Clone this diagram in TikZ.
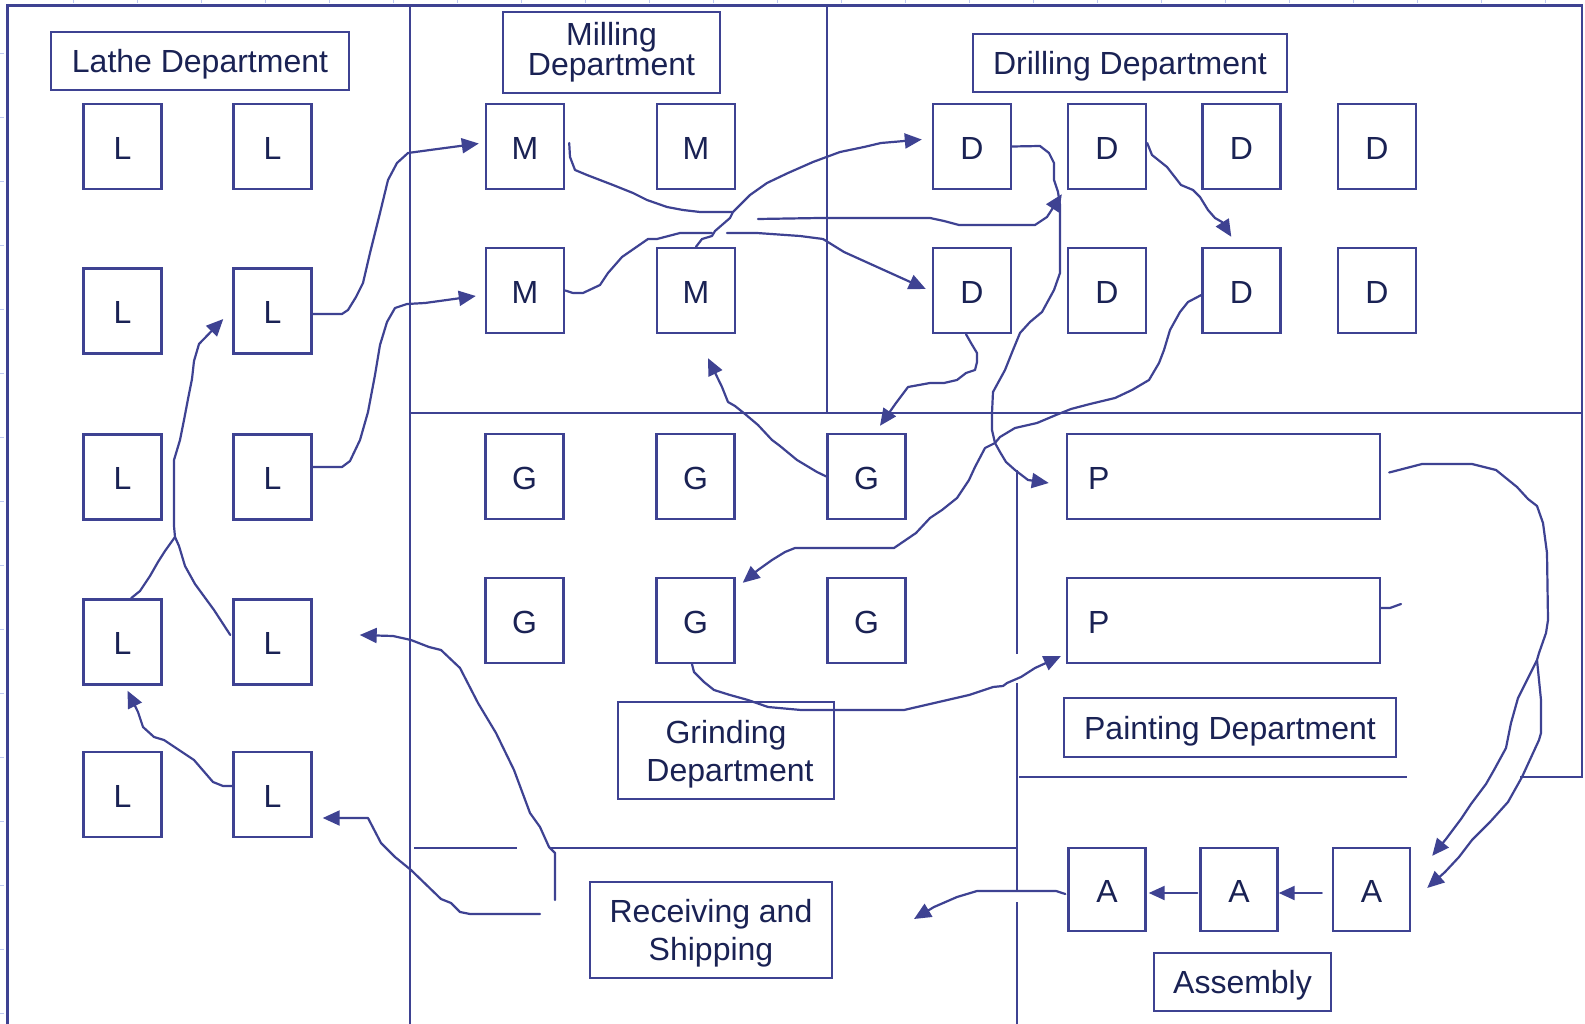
\documentclass[tikz,border=0pt]{standalone}
\usepackage{fontspec}
\setmainfont{Liberation Sans}
\usetikzlibrary{arrows.meta}
\definecolor{lc}{RGB}{62,66,146}
\definecolor{tc}{RGB}{26,34,84}
\definecolor{tick}{RGB}{190,200,240}
\begin{document}
\begin{tikzpicture}[x=1pt,y=-1pt,
 frame/.style={draw=lc,line width=2.6pt},
 mach/.style={draw=lc,line width=2.4pt,inner sep=0pt,text=tc,font=\fontsize{32}{38}\selectfont,minimum width=78pt,minimum height=85pt,text height=25.5pt,text depth=0pt},
 lab/.style={draw=lc,line width=2.4pt,inner sep=0pt,text=tc,font=\fontsize{32}{38}\selectfont,align=center},
 flow/.style={draw=lc,line width=2.2pt,line join=round,line cap=round},
 arr/.style={flow,-{Triangle[length=17pt,width=15pt]}},
 tickmark/.style={draw=tick,line width=0.8pt}]
\fill[white] (0,0) rectangle (1585,1024);
\useasboundingbox (0,0) rectangle (1585,1024);
% faint ruler ticks
\foreach \t in {73,137,...,1585} \draw[tickmark] (\t,0) -- (\t,3);
\foreach \t in {53,117,...,1024} \draw[tickmark] (0,\t) -- (4,\t);
% frame
\draw[frame] (7.5,1024) -- (7.5,5.5) -- (1582,5.5) -- (1582,777) -- (1520,777);
\draw[frame] (410,5.5) -- (410,1024);
\draw[frame] (827,5.5) -- (827,413);
\draw[frame] (410,413) -- (1582,413);
\draw[frame] (1019,777) -- (1407,777);
\draw[frame] (1017,470) -- (1017,654);
\draw[frame] (1017,683) -- (1017,890);
\draw[frame] (1017,902) -- (1017,1024);
\draw[frame] (414,848) -- (517,848);
\draw[frame] (550,848) -- (1017,848);
% labels
\node[lab,minimum width=298pt,minimum height=58pt,text height=23pt,text depth=0pt] (lathe) at (200,61) {Lathe Department};
\node[lab,minimum width=217pt,minimum height=81pt,font=\fontsize{32}{30}\selectfont] (milling) at (611.5,52.5) {Milling\\Department};
\node[lab,minimum width=314pt,minimum height=58pt,text height=23pt,text depth=0pt] (drilling) at (1130,63) {Drilling Department};
\node[lab,minimum width=216pt,minimum height=97pt] (grinding) at (726,750.5) {\rule{0pt}{31.5pt}Grinding\\\hspace*{8pt}Department};
\node[lab,minimum width=332pt,minimum height=59pt,text height=23pt,text depth=0pt] (painting) at (1230,727.5) {Painting Department};
\node[lab,minimum width=242pt,minimum height=96pt] (receiving) at (711,930) {\rule{0pt}{28.7pt}Receiving and\\Shipping};
\node[lab,minimum width=177pt,minimum height=58pt,text height=23pt,text depth=0pt] (assembly) at (1242.5,982) {Assembly};
% lathes
\node[mach] (L11) at (122.5,146.5) {L};
\node[mach] (L12) at (272.5,146.5) {L};
\node[mach] (L21) at (122.5,311) {L};
\node[mach] (L22) at (272.5,311) {L};
\node[mach] (L31) at (122.5,477) {L};
\node[mach] (L32) at (272.5,477) {L};
\node[mach] (L41) at (122.5,642) {L};
\node[mach] (L42) at (272.5,642) {L};
\node[mach] (L51) at (122.5,794.5) {L};
\node[mach] (L52) at (272.5,794.5) {L};
% mills
\node[mach] (M11) at (525,146.5) {M};
\node[mach] (M12) at (696,146.5) {M};
\node[mach] (M21) at (525,290.5) {M};
\node[mach] (M22) at (696,290.5) {M};
% drills
\node[mach] (D11) at (972,146.5) {D};
\node[mach] (D12) at (1107,146.5) {D};
\node[mach] (D13) at (1241.5,146.5) {D};
\node[mach] (D14) at (1377,146.5) {D};
\node[mach] (D21) at (972,290.5) {D};
\node[mach] (D22) at (1107,290.5) {D};
\node[mach] (D23) at (1241.5,290.5) {D};
\node[mach] (D24) at (1377,290.5) {D};
% grinders
\node[mach] (G11) at (524.5,476.5) {G};
\node[mach] (G12) at (695.5,476.5) {G};
\node[mach] (G13) at (866.5,476.5) {G};
\node[mach] (G21) at (524.5,620.5) {G};
\node[mach] (G22) at (695.5,620.5) {G};
\node[mach] (G23) at (866.5,620.5) {G};
% painting
\node[mach,minimum width=313pt,text width=271pt,align=left] (P1) at (1223.5,476.5) {P};
\node[mach,minimum width=313pt,text width=271pt,align=left] (P2) at (1223.5,620.5) {P};
% assembly
\node[mach,minimum width=77pt,minimum height=83pt] (A1) at (1107,889.5) {A};
\node[mach,minimum width=77pt,minimum height=83pt] (A2) at (1239,889.5) {A};
\node[mach,minimum width=77pt,minimum height=83pt] (A3) at (1371.5,889.5) {A};
% connectors
\draw[arr] ([yshift=-3pt]L22.east) -- (342,314) -- (348,310) -- (356,297) -- (363,283) -- (370,253) -- (380,213) -- (388,180) -- (397,163) -- (408,153) -- (430,150) -- ([xshift=-6pt,yshift=3pt]M11.west);
\draw[arr] ([yshift=10pt]L32.east) -- (342,467) -- (350,461) -- (360,440) -- (368,412) -- (375,375) -- (380,345) -- (387,322) -- (395,308) -- (407,304) -- (425,303) -- ([xshift=-9pt,yshift=-5.5pt]M21.west);
\coordinate (j1) at (175,537);
\draw[arr] ([xshift=-2pt,yshift=7pt]L42.west) -- (214,610) -- (195,584) -- (185,566) -- (179,546) -- (j1) -- (174,526) -- (174,460) -- (180,440) -- (184,420) -- (188,399) -- (192,379) -- (194,361) -- (199,344) -- ([xshift=-9pt,yshift=-8pt]L22.west);
\draw[flow] ([xshift=8.5pt]L41.north) -- (140,591) -- (150,576) -- (158,562) -- (165,551) -- (j1);
\draw[arr] ([yshift=8.5pt]L52.west) -- (223,786) -- (213,782) -- (194,760) -- (164,740) -- (154,737) -- (143,727) -- (138,712) -- ([xshift=5pt,yshift=-5pt]L41.south);
\coordinate (rs1) at (555,900);
\draw[arr] (rs1) -- (555,853) -- (549,847) -- (540,827) -- (530,813) -- (514,770) -- (496,733) -- (478,703) -- (460,668) -- (441,650) -- (429,647) -- (411,640) -- (393,636) -- ([xshift=47pt,yshift=7pt]L42.east);
\coordinate (rs2) at (540,914);
\draw[arr] (rs2) -- (470,914) -- (460,912) -- (451,903) -- (441,899) -- (411,870) -- (395,857) -- (381,843) -- (368,818) -- ([xshift=10pt,yshift=-23.5pt]L52.east);
\draw[flow] ([xshift=4pt,yshift=3.5pt]M11.east) -- (570,157) -- (575,170) -- (587,175) -- (600,180) -- (613,185) -- (633,193) -- (647,200) -- (667,207) -- (683,210) -- (700,212) -- (732,212);
\draw[arr] (758,219) -- (820,218) -- (930,218) -- (944,221) -- (959,225) -- (1035,225) -- (1047,217) -- ([xshift=-5pt,yshift=-4pt]D12.south west);
\draw[flow] (M21.east) -- (573,293) -- (583,293) -- (600,285) -- (608,273) -- (622,257) -- (648,239) -- (657,239) -- (680,233) -- (712,233);
\draw[arr] (727,233) -- (757,233) -- (800,236) -- (823,239) -- (844,252) -- ([xshift=-6pt,yshift=1.5pt]D21.west);
\draw[arr] (M22.north) -- (702,239) -- (712,236) -- (715,231) -- (730,218) -- (733,212) -- (750,195) -- (767,183) -- (788,173) -- (813,162) -- (840,152) -- (864,147) -- (881,143) -- ([xshift=-10pt,yshift=7pt]D11.west);
\draw[arr] (D11.east) -- (1040,146) -- (1049,153) -- (1054,163) -- (1054,180) -- (1058,192) -- (1060,205) -- (1060,273) -- (1054,290) -- (1042,312) -- (1030,322) -- (1020,333) -- (1013,350) -- (1005,370) -- (993,392) -- (992,413) -- (992,430) -- (995,443) -- (1000,452) -- (1006,462) -- (1015,470) -- (1028,480) -- ([xshift=-17pt,yshift=-6.5pt]P1.west);
\draw[arr] ([yshift=3.5pt]D12.east) -- (1152,155) -- (1167,167) -- (1181,185) -- (1193,190) -- (1200,197) -- (1208,210) -- (1215,218) -- (1222,222) -- ([xshift=30pt,yshift=10pt]D23.north west);
\draw[arr] ([xshift=-6pt]D21.south) -- (971,343) -- (977,353) -- (977,362) -- (975,370) -- (966,373) -- (957,380) -- (944,383) -- (930,383) -- (908,387) -- (896,403) -- ([xshift=13.5pt,yshift=7pt]G13.north);
\draw[arr] (G13.west) -- (817,472) -- (797,460) -- (780,446) -- (772,440) -- (758,425) -- (745,414) -- (735,406) -- (728,402) -- (722,387) -- ([xshift=12pt,yshift=-24pt]M22.south);
\draw[arr] ([yshift=-4.5pt]D23.west) -- (1188,302) -- (1180,312) -- (1170,330) -- (1164,350) -- (1159,363) -- (1149,380) -- (1132,390) -- (1115,398) -- (1090,404) -- (1071,409) -- (1056,415) -- (1037,423) -- (1015,428) -- (1000,437) -- (995,443) -- (985,448) -- (975,467) -- (969,480) -- (957,498) -- (942,510) -- (930,518) -- (916,533) -- (894,548) -- (795,548) -- (785,552) -- (772,560) -- (758,570) -- ([xshift=7pt,yshift=-6pt]G22.north east);
\draw[arr] ([xshift=-3.5pt]G22.south) -- (694,672) -- (704,682) -- (714,690) -- (730,695) -- (748,700) -- (768,707) -- (801,710) -- (904,710) -- (930,704) -- (969,695) -- (993,687) -- (1003,686) -- (1007,683) -- (1021,677) -- (1035,668) -- ([xshift=-5pt,yshift=8pt]P2.south west);
\coordinate (br) at (1537,660);
\draw[arr] ([xshift=8pt,yshift=4pt]P1.east) -- (1422,464) -- (1472,464) -- (1496,470) -- (1517,487) -- (1528,499) -- (1537,506) -- (1543,523) -- (1547,553) -- (1548,620) -- (1546,633) -- (1539,653) -- (br) -- (1532,670) -- (1518,698) -- (1511,723) -- (1506,748) -- (1494,770) -- (1486,784) -- (1471,804) -- (1461,819) -- (1446,839) -- ([xshift=21pt,yshift=-9pt]A3.north east);
\draw[arr] (br) -- (1539,680) -- (1541,700) -- (1541,733) -- (1539,740) -- (1522,777) -- (1508,802) -- (1490,822) -- (1472,840) -- (1459,857) -- (1445,872) -- ([xshift=16pt,yshift=1.5pt]A3.east);
\draw[flow] ([yshift=12.5pt]P2.east) -- (1390,608) -- (1401,604);
\draw[arr,-{Triangle[length=16pt,width=14pt]}] ([xshift=-10pt,yshift=-3.5pt]A3.west) -- ([yshift=-3.5pt]A2.east);
\draw[arr,-{Triangle[length=16pt,width=14pt]}] ([xshift=-2pt,yshift=-3.5pt]A2.west) -- ([xshift=2pt,yshift=-3.5pt]A1.east);
\coordinate (rsin) at (914,919);
\draw[arr] ([xshift=-2pt,yshift=-4.5pt]A1.west) -- (1056,891) -- (977,891) -- (957,897) -- (934,907) -- (rsin);
\end{tikzpicture}
\end{document}
